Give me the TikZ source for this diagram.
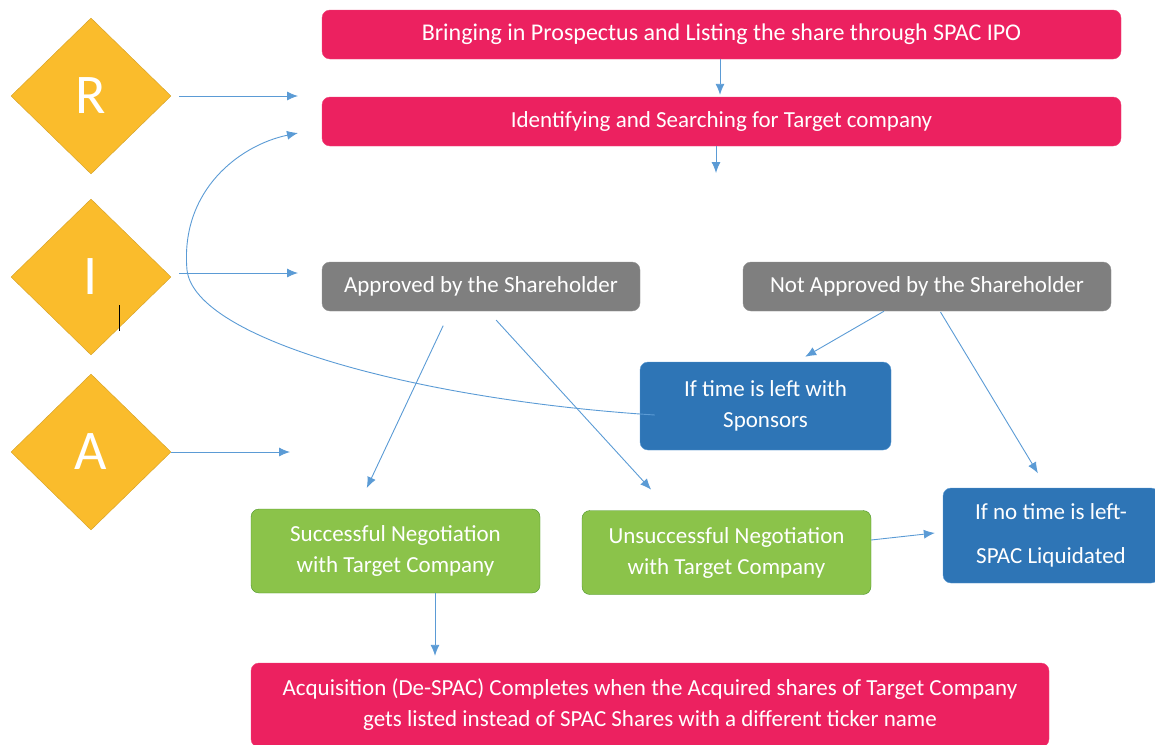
\documentclass[tikz,border=0pt]{standalone}
\usepackage{fontspec}
\setmainfont{Carlito}
\usetikzlibrary{shapes.geometric,arrows.meta}

\definecolor{spacpink}{HTML}{EC2160}
\definecolor{votegray}{HTML}{7F7F7F}
\definecolor{timeblue}{HTML}{2E75B6}
\definecolor{dealgreen}{HTML}{8BC34A}
\definecolor{stageyellow}{HTML}{FABC2C}
\definecolor{arrblue}{HTML}{5B9BD5}

\begin{document}
\begin{tikzpicture}[x=1pt, y=-1pt,
    stage/.style={shape=diamond, draw=stageyellow!85!black, fill=stageyellow, minimum width=160pt,
                minimum height=156pt, inner sep=0pt, text=white, font=\fontsize{56}{56}\selectfont},
    pbox/.style={draw=spacpink!85!white, fill=spacpink, rounded corners=8pt, text=white, align=center,
                inner sep=0pt, font=\fontsize{23}{31}\selectfont},
    gbox/.style={pbox, draw=votegray!85!white, fill=votegray},
    bbox/.style={pbox, draw=arrblue, fill=timeblue},
    nbox/.style={pbox, draw=dealgreen!75!green!70!black, fill=dealgreen},
    arr/.style={-{Latex[length=11pt,width=9pt]}, draw=arrblue, line width=0.9pt}
]
\useasboundingbox (0,0) rectangle (1155,744);

\node[stage] (r) at (91,96)  {R};
\node[stage] (i) at (91,277) {I};
\node[stage] (a) at (91,452) {A};
\draw[line width=1pt] (119,305) -- (119,331);

\node[pbox, minimum width=799pt, minimum height=49pt, font=\fontsize{24}{31}\selectfont] (ipo) at (721.5,34.5)
    {Bringing in Prospectus and Listing the share through SPAC IPO};
\node[pbox, minimum width=799pt, minimum height=49pt] (search) at (721.5,121.5) {Identifying and Searching for Target company};
\node[gbox, minimum width=318pt, minimum height=49pt] (appr)    at (481,286.5) {Approved by the Shareholder};
\node[gbox, minimum width=368pt, minimum height=49pt] (notappr) at (927,286.5) {Not Approved by the Shareholder};
\node[bbox, minimum width=251pt, minimum height=88pt] (spons) at (765.5,406)  {If time is left with\\Sponsors};
\node[bbox, minimum width=216pt, minimum height=95pt] (liq)   at (1051,535.5) {If no time is left-\\[13pt]SPAC Liquidated};
\node[nbox, minimum width=289pt, minimum height=84pt] (succ)   at (395.5,551) {Successful Negotiation\\with Target Company};
\node[nbox, minimum width=289pt, minimum height=84pt] (unsucc) at (726.5,552.5) {Unsuccessful Negotiation\\with Target Company};
\node[pbox, minimum width=798pt, minimum height=84pt] (despac) at (650,705)
    {Acquisition (De-SPAC) Completes when the Acquired shares of Target Company\\gets listed instead of SPAC Shares with a different ticker name};

% stage pointers
\coordinate (rend) at (298,96); \coordinate (iend) at (298,273); \coordinate (aend) at (290,452);
\draw[arr, shorten <=8pt] (r.east) -- (rend);
\draw[arr, shorten <=8pt] ([yshift=4pt]i.east) -- (iend);
\draw[arr] (a.east) -- (aend);

% main flow
\coordinate (searchend) at (716,173);
\draw[arr, shorten >=2pt] ([xshift=-1.5pt]ipo.south) -- ([xshift=-1.5pt]search.north);
\draw[arr] (search.south -| searchend) -- (searchend);
\draw[arr, shorten <=16pt, shorten >=23pt] ([xshift=-31pt]appr.south) -- ([xshift=-38.5pt]succ.north);
\draw[arr, shorten <=12pt, shorten >=28pt] ([xshift=7pt]appr.south) -- ([xshift=-56.5pt]unsucc.north);
\draw[arr, shorten >=10pt] ([xshift=-43pt]notappr.south) -- ([xshift=31pt]spons.north);
\draw[arr, shorten <=1pt, shorten >=17pt] ([xshift=13pt]notappr.south) -- ([xshift=-4.3pt]liq.north);
\draw[arr, shorten >=8pt] ([yshift=12.5pt]unsucc.east) -- ([yshift=3.4pt]liq.west);
\draw[arr, shorten >=7pt] ([xshift=39.5pt]succ.south) -- ([xshift=39.5pt]succ.south |- despac.north);

% back to the search when time is left
\coordinate (loopend) at (298,133);
\draw[arr] ([xshift=15pt,yshift=-9pt]spons.west) .. controls (420,400) and (195,340) .. (187,270)
    .. controls (180,190) and (240,145) .. (loopend);
\end{tikzpicture}
\end{document}
